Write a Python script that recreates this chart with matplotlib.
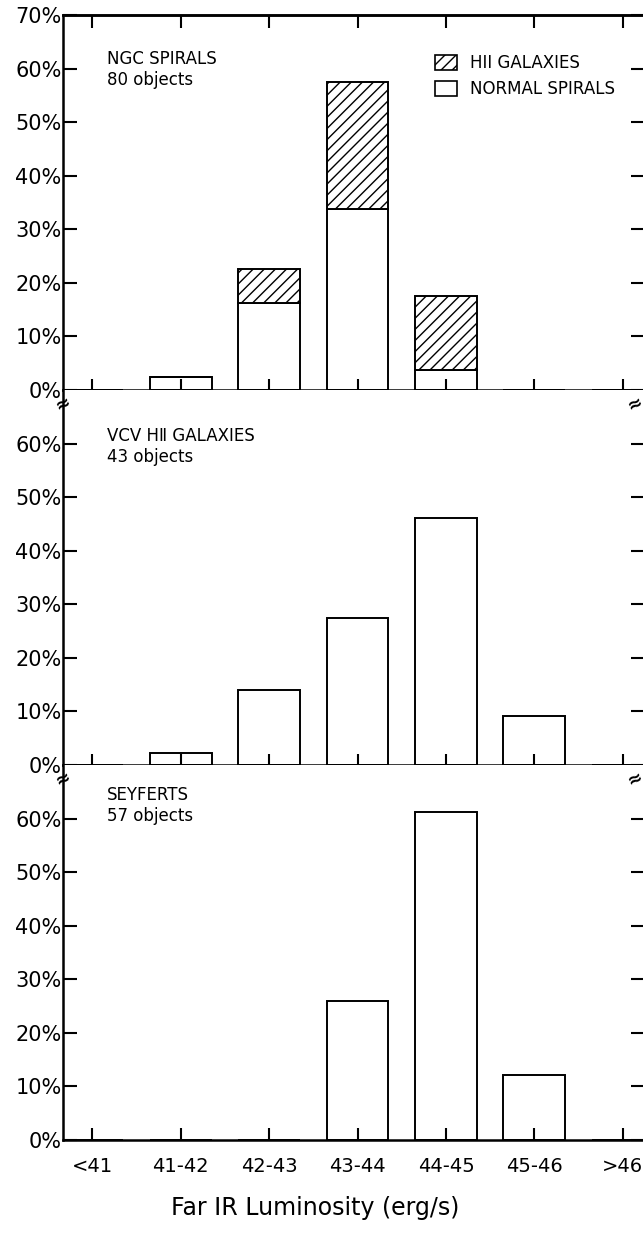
import matplotlib
matplotlib.use("Agg")
import matplotlib.pyplot as plt
from matplotlib.patches import Patch

plt.rcParams['font.family'] = ['DejaVu Sans']
plt.rcParams['hatch.linewidth'] = 1.0

categories = ["<41", "41-42", "42-43", "43-44", "44-45", "45-46", ">46"]

# NGC spirals (80 objects), percent per luminosity bin
ngc_normal = [0, 2.5, 16.25, 33.75, 3.75, 0, 0]
ngc_hii = [0, 0, 6.25, 23.75, 13.75, 0, 0]

# VCV HII galaxies (43 objects)
vcv = [0, 2.3, 13.95, 27.4, 46.1, 9.1, 0]

# Seyferts (57 objects)
seyferts = [0, 0, 0, 26.0, 61.2, 12.2, 0]

fig = plt.figure(figsize=(6.43, 12.4), dpi=100)
left, right = 63 / 643, 645 / 643
top, bottom = 1 - 15 / 1240, 1 - 1140 / 1240
h = (top - bottom) / 3
axes = [fig.add_axes([left, top - (i + 1) * h, right - left, h]) for i in range(3)]

x = list(range(len(categories)))
w = 0.7
lw = 1.4

def style(ax, first, last):
    ax.set_xlim(-0.33, 6.25)
    ax.set_ylim(0, 70)
    for s in ax.spines.values():
        s.set_linewidth(1.8)
    ax.spines['right'].set_visible(False)
    if not first:
        ax.spines['top'].set_visible(False)
    ax.set_xticks(x)
    if last:
        ax.set_xticklabels(categories, fontsize=14)
        ax.tick_params(axis='x', direction='in', length=9, width=1.5, pad=12)
    else:
        ax.set_xticklabels([])
        ax.tick_params(axis='x', direction='inout', length=16, width=1.5)
    if first:
        ax.set_yticks(range(0, 80, 10))
        sec = ax.secondary_xaxis('top')
        sec.set_xticks(x)
        sec.set_xticklabels([])
        sec.tick_params(direction='in', length=9, width=1.5)
        sec.spines['top'].set_linewidth(1.8)
    else:
        ax.set_yticks(range(0, 70, 10))
    ax.set_yticklabels([f"{v}%" for v in ax.get_yticks().astype(int)], fontsize=15)
    ax.tick_params(axis='y', direction='in', length=10, width=1.5, right=True, pad=1)

# top panel
ax = axes[0]
ax.bar(x, ngc_normal, w, color='white', edgecolor='black', linewidth=lw)
ax.bar(x, ngc_hii, w, bottom=ngc_normal, color='white', edgecolor='black',
       linewidth=lw, hatch='///')
style(ax, True, False)
ax.text(0.17, 63.5, "NGC SPIRALS\n80 objects", fontsize=12, va='top', linespacing=1.2)
handles = [Patch(facecolor='white', edgecolor='black', hatch='///', linewidth=1.2),
           Patch(facecolor='white', edgecolor='black', linewidth=1.2)]
ax.legend(handles, ["HII GALAXIES", "NORMAL SPIRALS"], loc='upper right',
          bbox_to_anchor=(0.975, 0.935), frameon=False, fontsize=12,
          handlelength=1.3, handleheight=1.0, handletextpad=0.8, labelspacing=0.45)

# middle panel
ax = axes[1]
ax.bar(x, vcv, w, color='white', edgecolor='black', linewidth=lw)
style(ax, False, False)
ax.text(0.17, 63, "VCV H\u2161 GALAXIES\n43 objects", fontsize=12, va='top',
        linespacing=1.2)

# bottom panel
ax = axes[2]
ax.bar(x, seyferts, w, color='white', edgecolor='black', linewidth=lw)
style(ax, False, True)
ax.text(0.17, 66, "SEYFERTS\n57 objects", fontsize=12, va='top', linespacing=1.2)
ax.set_xlabel("Far IR Luminosity (erg/s)", fontsize=17)
ax.xaxis.set_label_coords(0.433, -0.15)

# axis break marks
for ax in axes[1:]:
    for xa in (0.0, 0.982):
        ax.text(xa, 0.963, "\u2248", transform=ax.transAxes, fontsize=13,
                ha='center', va='center', rotation=25, fontweight='bold')

fig.savefig("out.png", dpi=100)
